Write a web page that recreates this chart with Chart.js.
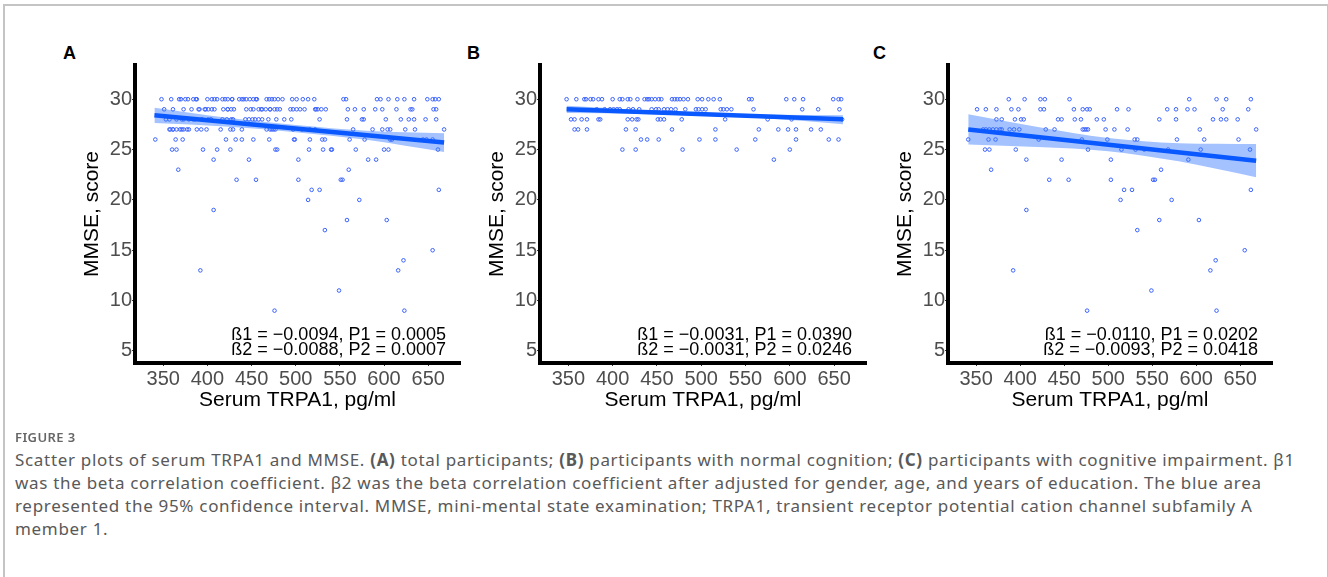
<!DOCTYPE html>
<html>
<head>
<meta charset="utf-8">
<script src="https://cdn.jsdelivr.net/npm/chart.js@4.4.1/dist/chart.umd.min.js"></script>
<style>
body { margin: 0; background: #fff; width: 1328px; height: 577px; overflow: hidden; position: relative; }
.frame { position: absolute; left: 3px; top: 4px; width: 1322px; height: 620px; border: 2px solid #c4c4c4; border-bottom: none; }
canvas { position: absolute; }
.lab { position: absolute; font: bold 18px "Liberation Sans", Arial, sans-serif; color: #000; line-height: 18px; }
.fig { position: absolute; left: 15px; top: 428px; font: 600 13px "Noto Sans", sans-serif; color: #666; letter-spacing: .4px; }
.cap { position: absolute; left: 15px; top: 448px; font: 17px "Noto Sans", sans-serif; color: #595959; line-height: 23px; white-space: nowrap; letter-spacing: .69px; }
</style>
</head>
<body>
<div class="frame"></div>
<div class="lab" style="left:63px;top:44px">A</div>
<div class="lab" style="left:467px;top:44px">B</div>
<div class="lab" style="left:873px;top:44px">C</div>
<canvas id="chartA" width="420" height="370" style="left:60px;top:60px"></canvas>
<canvas id="chartB" width="421" height="370" style="left:465px;top:60px"></canvas>
<canvas id="chartC" width="419" height="370" style="left:873px;top:60px"></canvas>
<div class="fig">FIGURE 3</div>
<div class="cap">Scatter plots of serum TRPA1 and MMSE. <b>(A)</b> total participants; <b>(B)</b> participants with normal cognition; <b>(C)</b> participants with cognitive impairment. β1<br>was the beta correlation coefficient. β2 was the beta correlation coefficient after adjusted for gender, age, and years of education. The blue area<br>represented the 95% confidence interval. MMSE, mini-mental state examination; TRPA1, transient receptor potential cation channel subfamily A<br>member 1.</div>

<script>
// axis ticks
const xTicks = [350, 400, 450, 500, 550, 600, 650];
const yTicks = [5, 10, 15, 20, 25, 30];

// participants with normal cognition (panel B)
const normTRPA1 = [
  348,359,368,370,375,378,384,388,400,408,411,417,420,428,436,439,441,444,448,452,455,467,470,473,476,480,485,496,501,508,514,521,554,557,596,605,615,649,655,658,
  382,391,397,401,405,408,418,423,430,444,449,452,458,462,466,471,482,494,497,501,505,522,525,529,534,559,614,632,656,
  353,357,365,371,384,386,417,422,427,429,451,454,458,478,527,575,602,659,
  357,361,371,415,426,467,516,565,587,598,607,624,635,
  432,439,452,498,516,561,607,644,655,
  411,426,479,540,600,
  582
];
const normMMSE = [
  30,30,30,30,30,30,30,30,30,30,30,30,30,30,30,30,30,30,30,30,30,30,30,30,30,30,30,30,30,30,30,30,30,30,30,30,30,30,30,30,
  29,29,29,29,29,29,29,29,29,29,29,29,29,29,29,29,29,29,29,29,29,29,29,29,29,29,29,29,29,
  28,28,28,28,28,28,28,28,28,28,28,28,28,28,28,28,28,28,
  27,27,27,27,27,27,27,27,27,27,27,27,27,
  26,26,26,26,26,26,26,26,26,
  25,25,25,25,25,
  24
];

// participants with cognitive impairment (panel C)
const impTRPA1 = [
  387,405,423,428,456,592,623,634,662,
  351,361,373,390,398,423,427,461,471,476,479,510,523,567,577,590,598,630,659,
  373,379,394,401,404,443,447,462,469,487,495,558,577,619,628,634,647,
  358,361,365,369,373,377,379,388,393,399,429,439,471,473,475,477,497,507,522,604,668,
  341,364,372,421,470,499,530,533,578,609,648,
  360,365,395,477,515,531,541,568,605,661,
  407,447,503,591,
  367,560,
  433,455,503,551,553,
  518,527,662,
  514,572,
  407,
  558,603,
  533,
  655,
  622,
  392,616,
  549,
  476,623
];
const impMMSE = [
  30,30,30,30,30,30,30,30,30,
  29,29,29,29,29,29,29,29,29,29,29,29,29,29,29,29,29,29,29,
  28,28,28,28,28,28,28,28,28,28,28,28,28,28,28,28,28,
  27,27,27,27,27,27,27,27,27,27,27,27,27,27,27,27,27,27,27,27,27,
  26,26,26,26,26,26,26,26,26,26,26,
  25,25,25,25,25,25,25,25,25,25,
  24,24,24,24,
  23,23,
  22,22,22,22,22,
  21,21,21,
  20,20,
  19,
  18,18,
  17,
  15,
  14,
  13,13,
  11,
  9,9
];

// fitted lines and 95% bands
const fitXA = [340, 668], fitYA = [28.4, 25.7];
const bandXA = [340, 420, 500, 580, 668];
const lowA = [27.65, 27.30, 26.73, 25.97, 24.75];
const upA = [29.15, 28.18, 27.43, 26.87, 26.62];

const fitXB = [348, 660], fitYB = [29.0, 28.0];
const bandXB = [348, 430, 500, 580, 660];
const lowB = [28.62, 28.54, 28.36, 28.06, 27.52];
const upB = [29.35, 28.94, 28.66, 28.46, 28.42];

const fitXC = [341, 668], fitYC = [27.0, 23.9];
const bandXC = [341, 420, 500, 580, 668];
const lowC = [25.5, 25.25, 24.84, 23.83, 22.25];
const upC = [28.5, 27.25, 26.14, 25.63, 25.55];

const statsA = ['ß1 = \u22120.0094, P1 = 0.0005', 'ß2 = \u22120.0088, P2 = 0.0007'];
const statsB = ['ß1 = \u22120.0031, P1 = 0.0390', 'ß2 = \u22120.0031, P2 = 0.0246'];
const statsC = ['ß1 = \u22120.0110, P1 = 0.0202', 'ß2 = \u22120.0093, P2 = 0.0418'];

const pair = (xs, ys) => xs.map((x, i) => ({x: x, y: ys[i]}));

const statsPlugin = {
  id: 'stats',
  afterDatasetsDraw(chart, args, opts) {
    const ctx = chart.ctx, area = chart.chartArea;
    ctx.save();
    ctx.font = '18px "Liberation Sans", Arial, sans-serif';
    ctx.fillStyle = '#000';
    ctx.textAlign = 'right';
    ctx.textBaseline = 'middle';
    ctx.fillText(opts.lines[0], area.right - 14, area.bottom - 28);
    ctx.fillText(opts.lines[1], area.right - 14, area.bottom - 13);
    ctx.restore();
  }
};

function makeChart(id, xs, ys, fitX, fitY, bandX, low, up, stats) {
  const tickFont = {family: '"Liberation Sans", Arial, sans-serif', size: 20};
  const titleFont = {family: '"Liberation Sans", Arial, sans-serif', size: 21};
  new Chart(document.getElementById(id), {
    type: 'scatter',
    data: {
      datasets: [
        {
          data: pair(xs, ys),
          pointRadius: 1.8,
          pointBorderWidth: 1,
          borderColor: '#3a62ff',
          backgroundColor: 'rgba(0,0,0,0)',
          order: 3
        },
        {
          type: 'line',
          data: pair(bandX, low),
          borderColor: 'transparent',
          borderWidth: 0,
          pointRadius: 0,
          fill: false,
          cubicInterpolationMode: 'monotone',
          order: 2
        },
        {
          type: 'line',
          data: pair(bandX, up),
          borderColor: 'transparent',
          borderWidth: 0,
          pointRadius: 0,
          fill: '-1',
          backgroundColor: 'rgba(51,119,255,0.45)',
          cubicInterpolationMode: 'monotone',
          order: 1
        },
        {
          type: 'line',
          data: pair(fitX, fitY),
          borderColor: '#0a58ff',
          borderWidth: 4.5,
          pointRadius: 0,
          fill: false,
          order: 0
        }
      ]
    },
    options: {
      responsive: false,
      animation: false,
      layout: {padding: {top: 5, right: 20, left: 0, bottom: 0}},
      plugins: {
        legend: {display: false},
        tooltip: {enabled: false},
        stats: {lines: stats}
      },
      scales: {
        x: {
          type: 'linear',
          min: 318,
          max: 686,
          afterBuildTicks: s => { s.ticks = xTicks.map(v => ({value: v})); },
          afterFit: s => { s.height = 67; s.paddingLeft = 0; s.paddingRight = 0; },
          grid: {drawOnChartArea: false, drawTicks: true, tickLength: 3, color: '#333', lineWidth: 1},
          border: {display: true, color: '#000', width: 4},
          ticks: {font: tickFont, color: '#4d4d4d', padding: 1, maxRotation: 0, autoSkip: false},
          title: {display: true, text: 'Serum TRPA1, pg/ml', font: titleFont, color: '#000', padding: {top: 0, bottom: 17}}
        },
        y: {
          type: 'linear',
          min: 3.8,
          max: 33.4,
          afterBuildTicks: s => { s.ticks = yTicks.map(v => ({value: v})); },
          afterFit: s => { s.width = 75; s.paddingTop = 0; s.paddingBottom = 0; },
          grid: {drawOnChartArea: false, drawTicks: true, tickLength: 3, color: '#333', lineWidth: 1},
          border: {display: true, color: '#000', width: 4},
          ticks: {font: tickFont, color: '#4d4d4d', padding: 0},
          title: {display: true, text: 'MMSE, score', font: titleFont, color: '#000', padding: {top: 20, bottom: 0}}
        }
      }
    },
    plugins: [statsPlugin]
  });
}

makeChart('chartA', normTRPA1.concat(impTRPA1), normMMSE.concat(impMMSE), fitXA, fitYA, bandXA, lowA, upA, statsA);
makeChart('chartB', normTRPA1, normMMSE, fitXB, fitYB, bandXB, lowB, upB, statsB);
makeChart('chartC', impTRPA1, impMMSE, fitXC, fitYC, bandXC, lowC, upC, statsC);
</script>
</body>
</html>
